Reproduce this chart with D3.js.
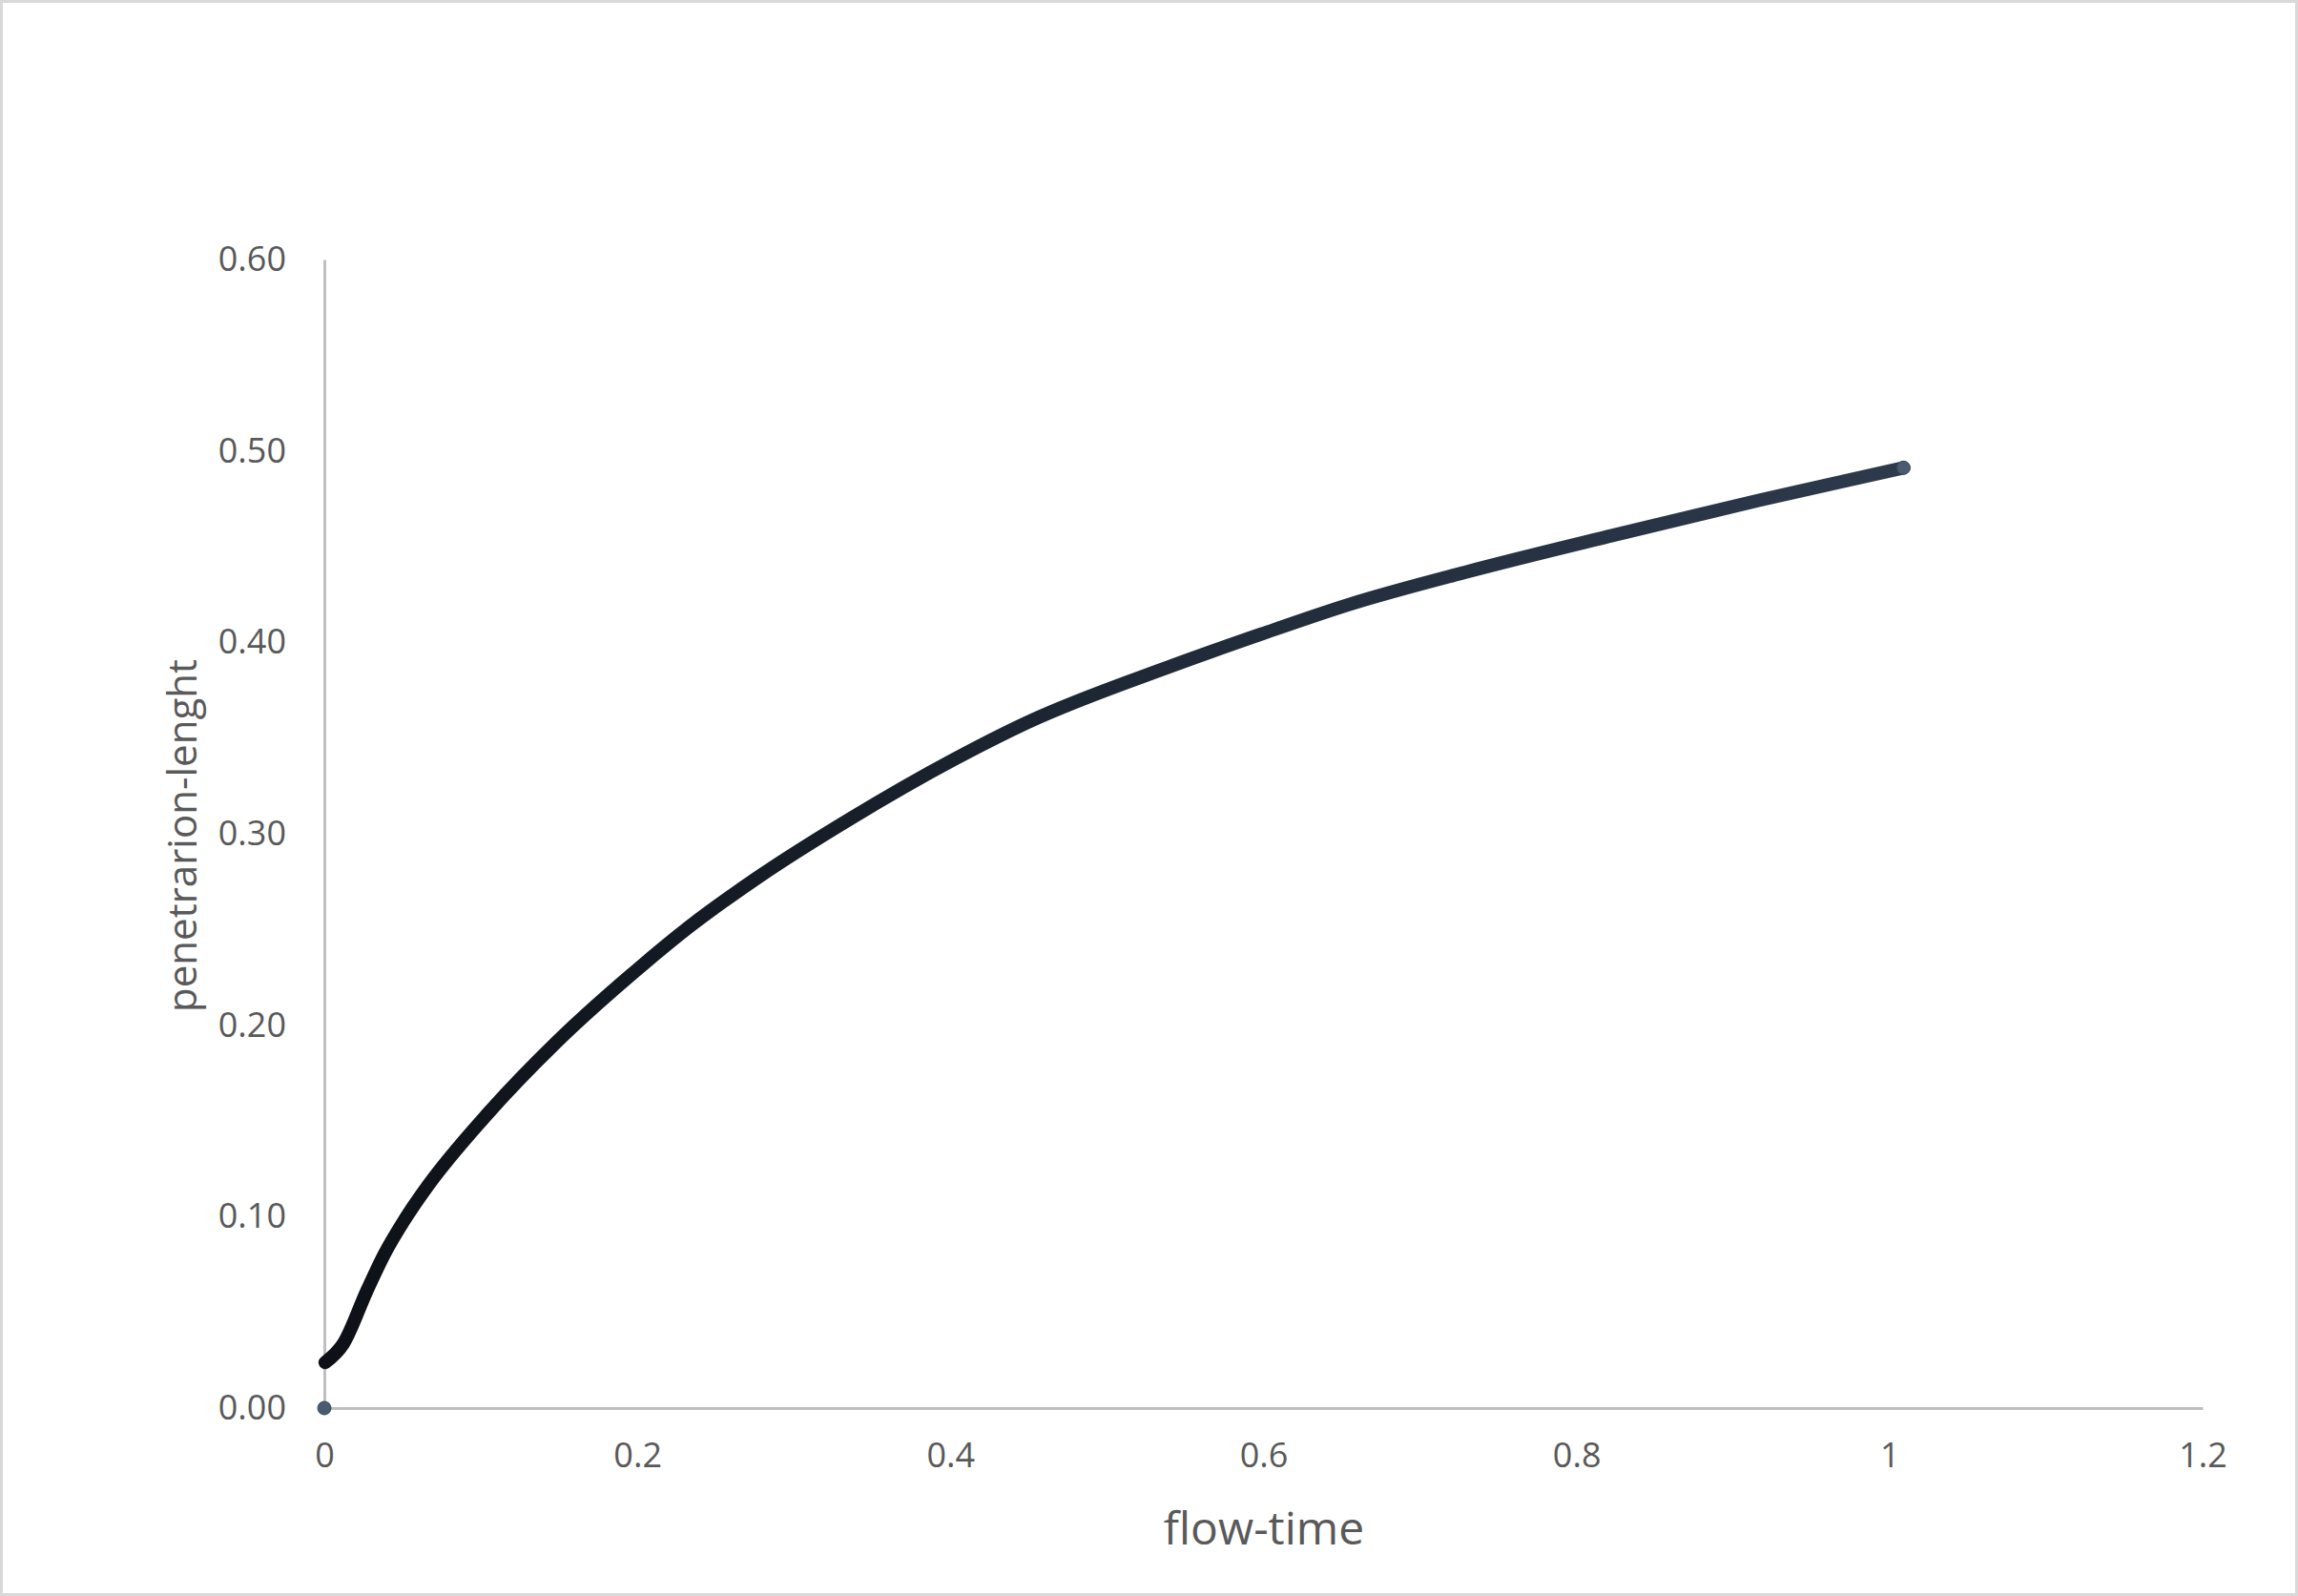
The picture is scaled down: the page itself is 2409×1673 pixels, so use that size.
<!DOCTYPE html>
<html>
<head>
<meta charset="utf-8">
<script src="https://cdn.jsdelivr.net/npm/d3@7"></script>
<style>
  html, body { margin: 0; padding: 0; background: #fff; }
  svg { display: block; }
  text { font-family: "Open Sans", sans-serif; fill: #595959; }
</style>
</head>
<body>
<div id="chart"></div>
<script>
// Width and height
var w = 2409;
var h = 1673;

// flow-time (x) and penetrarion-lenght (y)
var flowTime = [0, 0.0005, 0.0122, 0.0272, 0.0384, 0.0506, 0.0665, 0.1021, 0.1489, 0.2005,
  0.2333, 0.2773, 0.3363, 0.4019, 0.4487, 0.5424, 0.5986, 0.6548, 0.7298, 0.8234, 0.9171, 1.0089];
var penLength = [0, 0.0238, 0.0337, 0.0613, 0.0805, 0.0975, 0.1165, 0.1517, 0.1916, 0.2295,
  0.2515, 0.2774, 0.3080, 0.3387, 0.3580, 0.3880, 0.4043, 0.4198, 0.4368, 0.4559, 0.4743, 0.4912];

var xTicks = [0, 0.2, 0.4, 0.6, 0.8, 1, 1.2];
var yTicks = [0, 0.1, 0.2, 0.3, 0.4, 0.5, 0.6];

var data = flowTime.map(function(t, i) { return { x: t, y: penLength[i] }; });

// plot area (not "top": that name is taken by window.top)
var plotLeft = 340, plotRight = 2309, plotTop = 272, plotBottom = 1476;

var x = d3.scaleLinear().domain([0, 1.2]).range([plotLeft, plotRight]);
var y = d3.scaleLinear().domain([0, 0.6]).range([plotBottom, plotTop]);

var svg = d3.select("#chart")
  .append("svg")
  .attr("width", w)
  .attr("height", h);

// chart border
svg.append("rect")
  .attr("x", 1.5).attr("y", 1.5)
  .attr("width", w - 3).attr("height", h - 3)
  .attr("fill", "#fff")
  .attr("stroke", "#d9d9d9")
  .attr("stroke-width", 3);

// gradient so the dense marker trail goes from near black to slate
var defs = svg.append("defs");
var grad = defs.append("linearGradient")
  .attr("id", "trail")
  .attr("gradientUnits", "userSpaceOnUse")
  .attr("x1", x(0)).attr("x2", x(1.01))
  .attr("y1", 0).attr("y2", 0);
grad.append("stop").attr("offset", "0%").attr("stop-color", "#0d1117");
grad.append("stop").attr("offset", "30%").attr("stop-color", "#161d27");
grad.append("stop").attr("offset", "60%").attr("stop-color", "#222d3c");
grad.append("stop").attr("offset", "100%").attr("stop-color", "#2d3a4c");

// y axis
var yAxis = d3.axisLeft(y)
  .tickValues(yTicks)
  .tickSize(0)
  .tickPadding(40)
  .tickFormat(d3.format(".2f"));

var gy = svg.append("g")
  .attr("transform", "translate(" + plotLeft + ",0)")
  .call(yAxis);
gy.select(".domain").attr("stroke", "#bfbfbf").attr("stroke-width", 3);
gy.selectAll("text")
  .style("font-size", "36px")
  .attr("fill", "#595959");

// x axis
var xAxis = d3.axisBottom(x)
  .tickValues(xTicks)
  .tickSize(0)
  .tickPadding(36)
  .tickFormat(function(d) { return String(d); });

var gx = svg.append("g")
  .attr("transform", "translate(0," + plotBottom + ")")
  .call(xAxis);
gx.select(".domain").attr("stroke", "#bfbfbf").attr("stroke-width", 3);
gx.selectAll("text")
  .style("font-size", "36px")
  .attr("fill", "#595959");

// axis titles
svg.append("text")
  .attr("x", 1325)
  .attr("y", 1619)
  .attr("text-anchor", "middle")
  .style("font-size", "48px")
  .text("flow-time");

svg.append("text")
  .attr("transform", "translate(206,876) rotate(-90)")
  .attr("text-anchor", "middle")
  .style("font-size", "42px")
  .text("penetrarion-lenght");

// the markers sit so close together they read as one thick line
var line = d3.line()
  .x(function(d) { return x(d.x); })
  .y(function(d) { return y(d.y); })
  .curve(d3.curveMonotoneX);

svg.append("path")
  .datum(data.slice(1))
  .attr("d", line)
  .attr("fill", "none")
  .attr("stroke", "url(#trail)")
  .attr("stroke-width", 14)
  .attr("stroke-linecap", "round")
  .attr("stroke-linejoin", "round");

// first and last markers
var ends = [data[0], data[data.length - 1]];
svg.selectAll("circle.marker")
  .data(ends)
  .enter()
  .append("circle")
  .attr("class", "marker")
  .attr("cx", function(d) { return x(d.x); })
  .attr("cy", function(d) { return y(d.y); })
  .attr("r", 7)
  .attr("fill", "#4a5a70")
  .attr("stroke", "#3a4759")
  .attr("stroke-width", 1);
</script>
</body>
</html>
